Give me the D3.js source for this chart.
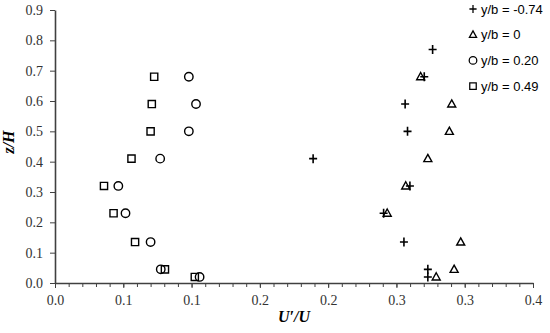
<!DOCTYPE html>
<html>
<head>
<meta charset="utf-8">
<script src="https://cdn.jsdelivr.net/npm/d3@7"></script>
<style>
  body { margin: 0; background: #fff; }
  svg { display: block; }
</style>
</head>
<body>
<div id="chart"></div>
<script>
// z/H levels and U'/U readings for each spanwise position
var zPlus = [0.77, 0.68, 0.59, 0.50, 0.41, 0.32, 0.23, 0.135, 0.045, 0.02];
var uPlus = [0.316, 0.309, 0.293, 0.295, 0.216, 0.297, 0.275, 0.292, 0.312, 0.312];

var zTri = [0.68, 0.59, 0.50, 0.41, 0.32, 0.23, 0.135, 0.045, 0.02];
var uTri = [0.306, 0.332, 0.330, 0.312, 0.2935, 0.278, 0.3395, 0.334, 0.319];

var zCirc = [0.68, 0.59, 0.50, 0.41, 0.32, 0.23, 0.135, 0.045, 0.02];
var uCirc = [0.112, 0.118, 0.112, 0.088, 0.053, 0.059, 0.080, 0.0885, 0.121];

var zSq = [0.68, 0.59, 0.50, 0.41, 0.32, 0.23, 0.135, 0.045, 0.02];
var uSq = [0.083, 0.081, 0.080, 0.064, 0.041, 0.049, 0.067, 0.092, 0.117];

var seriesNames = ["y/b = -0.74", "y/b = 0", "y/b = 0.20", "y/b = 0.49"];
var seriesShapes = ["plus", "triangle", "circle", "square"];

var yTicks = [0, 0.1, 0.2, 0.3, 0.4, 0.5, 0.6, 0.7, 0.8, 0.9];
var xTickLabels = ["0.0", "0.1", "0.1", "0.2", "0.2", "0.3", "0.3", "0.4"];

var width = 550, height = 333;
var margin = {top: 10, right: 17, bottom: 50, left: 55};

var svg = d3.select("#chart")
  .append("svg")
    .attr("width", width)
    .attr("height", height);

var x = d3.scaleLinear()
  .domain([0, 0.4])
  .range([margin.left, width - margin.right]);

var y = d3.scaleLinear()
  .domain([0, 0.9])
  .range([height - margin.bottom, margin.top]);

// x axis: major every 0.4/7, minor five per major
var xMajor = d3.range(xTickLabels.length).map(function(i) { return 0.4 * i / (xTickLabels.length - 1); });
var xMinor = d3.range(36).map(function(i) { return 0.4 * i / 35; });

svg.append("g")
  .attr("transform", "translate(0," + y(0) + ")")
  .call(d3.axisBottom(x).tickValues(xMinor).tickSize(4).tickFormat(""))
  .call(function(g) { g.select(".domain").remove(); })
  .selectAll("line").attr("stroke", "#404040");

var xAxis = svg.append("g")
  .attr("class", "xaxis")
  .attr("transform", "translate(0," + y(0) + ")")
  .call(d3.axisBottom(x)
    .tickValues(xMajor)
    .tickSize(5)
    .tickPadding(7)
    .tickSizeOuter(0)
    .tickFormat(function(d, i) { return xTickLabels[i]; }));

var yAxis = svg.append("g")
  .attr("class", "yaxis")
  .attr("transform", "translate(" + x(0) + ",0)")
  .call(d3.axisLeft(y)
    .tickValues(yTicks)
    .tickSize(5)
    .tickPadding(7)
    .tickSizeOuter(0)
    .tickFormat(d3.format(".1f")));

svg.selectAll(".xaxis .domain, .yaxis .domain")
  .attr("stroke", "#404040")
  .attr("stroke-width", 1.6);
svg.selectAll(".xaxis .tick line, .yaxis .tick line").attr("stroke", "#404040");
svg.selectAll(".xaxis text, .yaxis text")
  .attr("font-family", "Liberation Serif, Times New Roman, serif")
  .attr("font-size", "14px")
  .attr("fill", "#333");

// axis titles
svg.append("text")
  .attr("x", (x(0) + x(0.4)) / 2)
  .attr("y", 322)
  .attr("text-anchor", "middle")
  .attr("font-family", "Liberation Serif, Times New Roman, serif")
  .attr("font-size", "16px")
  .attr("font-weight", "bold")
  .attr("font-style", "italic")
  .text("U\u2032/U");

svg.append("text")
  .attr("transform", "translate(14," + 142 + ") rotate(-90)")
  .attr("text-anchor", "middle")
  .attr("font-family", "Liberation Serif, Times New Roman, serif")
  .attr("font-size", "16px")
  .attr("font-weight", "bold")
  .attr("font-style", "italic")
  .text("z/H");

// marker drawing
function shapePath(shape) {
  if (shape == "plus") return "M-4,0H4M0,-4.5V4.5";
  if (shape == "triangle") return "M0,-4.2L4,3L-4,3Z";
  if (shape == "circle") return d3.symbol().type(d3.symbolCircle).size(56)();
  return "M-3.6,-3.6H3.6V3.6H-3.6Z";
}

function drawSeries(us, zs, shape) {
  svg.append("g")
    .selectAll("path")
    .data(us)
    .enter()
    .append("path")
      .attr("d", shapePath(shape))
      .attr("transform", function(d, i) { return "translate(" + x(d) + "," + y(zs[i]) + ")"; })
      .attr("fill", "none")
      .attr("stroke", "#000")
      .attr("stroke-width", shape == "plus" ? 1.6 : 1.4);
}

drawSeries(uSq, zSq, "square");
drawSeries(uCirc, zCirc, "circle");
drawSeries(uTri, zTri, "triangle");
drawSeries(uPlus, zPlus, "plus");

// legend
var legend = svg.append("g")
  .selectAll("g")
  .data(seriesNames)
  .enter()
  .append("g")
    .attr("transform", function(d, i) { return "translate(473," + (9 + i * 25.7) + ")"; });

legend.append("path")
  .attr("d", function(d, i) { return shapePath(seriesShapes[i]); })
  .attr("transform", "scale(0.9)")
  .attr("fill", "none")
  .attr("stroke", "#000")
  .attr("stroke-width", 1.4);

legend.append("text")
  .attr("x", 8)
  .attr("dy", "0.35em")
  .attr("font-family", "Liberation Sans, Arial, sans-serif")
  .attr("font-size", "13px")
  .attr("fill", "#000")
  .text(function(d) { return d; });
</script>
</body>
</html>
